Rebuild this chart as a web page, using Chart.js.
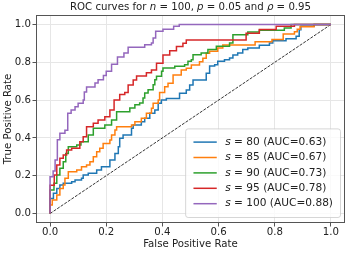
<!DOCTYPE html>
<html>
<head>
<meta charset="utf-8">
<script src="https://cdn.jsdelivr.net/npm/chart.js@4.4.1/dist/chart.umd.min.js"></script>
<style>
  html, body { margin: 0; padding: 0; background: #fff; }
  #wrap { width: 349px; height: 253px; }
</style>
</head>
<body>
<div id="wrap"><canvas id="rocChart"></canvas></div>
<script>
// values
const sValues = [80, 85, 90, 95, 100];
const aucValues = ['0.63', '0.67', '0.73', '0.78', '0.88'];
const colors = ['#1f77b4', '#ff7f0e', '#2ca02c', '#d62728', '#9467bd'];
const tickVals = [0, 0.2, 0.4, 0.6, 0.8, 1.0];

// each point: at fpr x the curve steps up to tpr y
const fpr80 = [0, 0, 0.012, 0.024, 0.035, 0.047, 0.077, 0.089, 0.112, 0.118, 0.136, 0.166, 0.183, 0.213, 0.231, 0.243, 0.248, 0.26, 0.29, 0.296, 0.325, 0.337, 0.355, 0.373, 0.385, 0.396, 0.414, 0.461, 0.485, 0.497, 0.509, 0.556, 0.568, 0.586, 0.597, 0.621, 0.639, 0.651, 0.668, 0.686, 0.704, 0.745, 0.781, 0.793, 0.84, 0.876, 0.887, 0.893, 0.94, 1];
const tpr80 = [0, 0.08, 0.107, 0.133, 0.151, 0.16, 0.168, 0.177, 0.186, 0.204, 0.213, 0.23, 0.248, 0.283, 0.318, 0.353, 0.398, 0.415, 0.451, 0.468, 0.486, 0.504, 0.53, 0.548, 0.583, 0.6, 0.609, 0.636, 0.653, 0.68, 0.706, 0.742, 0.78, 0.787, 0.805, 0.814, 0.823, 0.839, 0.849, 0.867, 0.876, 0.89, 0.902, 0.914, 0.925, 0.937, 0.972, 0.99, 1.0, 1.0];

const fpr85 = [0, 0, 0.008, 0.024, 0.035, 0.047, 0.053, 0.065, 0.095, 0.112, 0.13, 0.142, 0.154, 0.166, 0.177, 0.189, 0.213, 0.219, 0.231, 0.237, 0.29, 0.302, 0.325, 0.343, 0.361, 0.367, 0.385, 0.39, 0.408, 0.42, 0.438, 0.467, 0.485, 0.503, 0.532, 0.544, 0.556, 0.568, 0.597, 0.615, 0.73, 0.79, 0.83, 0.87, 0.88, 0.89, 0.94, 1];
const tpr85 = [0, 0.045, 0.071, 0.098, 0.133, 0.151, 0.186, 0.221, 0.23, 0.248, 0.257, 0.274, 0.3, 0.327, 0.345, 0.371, 0.389, 0.415, 0.442, 0.459, 0.468, 0.486, 0.504, 0.53, 0.557, 0.583, 0.6, 0.64, 0.671, 0.689, 0.733, 0.759, 0.768, 0.786, 0.803, 0.821, 0.848, 0.858, 0.876, 0.892, 0.909, 0.92, 0.95, 0.962, 0.975, 0.988, 1.0, 1.0];

const fpr90 = [0, 0, 0.014, 0.024, 0.035, 0.047, 0.056, 0.065, 0.095, 0.11, 0.136, 0.154, 0.195, 0.219, 0.237, 0.284, 0.302, 0.319, 0.331, 0.337, 0.349, 0.367, 0.373, 0.379, 0.397, 0.402, 0.444, 0.479, 0.491, 0.503, 0.509, 0.538, 0.562, 0.592, 0.639, 0.651, 0.704, 0.745, 0.834, 0.858, 1];
const tpr90 = [0, 0.124, 0.16, 0.204, 0.239, 0.274, 0.318, 0.353, 0.362, 0.38, 0.415, 0.451, 0.468, 0.495, 0.539, 0.558, 0.576, 0.585, 0.611, 0.638, 0.655, 0.681, 0.708, 0.726, 0.752, 0.77, 0.779, 0.787, 0.805, 0.814, 0.84, 0.849, 0.867, 0.885, 0.902, 0.945, 0.96, 0.97, 0.981, 1.0, 1.0];

const fpr95 = [0, 0, 0.015, 0.024, 0.035, 0.047, 0.059, 0.077, 0.106, 0.118, 0.13, 0.154, 0.171, 0.195, 0.213, 0.228, 0.248, 0.266, 0.278, 0.296, 0.308, 0.343, 0.361, 0.379, 0.402, 0.426, 0.45, 0.473, 0.485, 0.698, 0.745, 0.805, 0.87, 1];
const tpr95 = [0, 0.15, 0.204, 0.257, 0.292, 0.31, 0.336, 0.345, 0.38, 0.406, 0.459, 0.477, 0.495, 0.512, 0.548, 0.6, 0.629, 0.64, 0.68, 0.706, 0.728, 0.745, 0.759, 0.795, 0.839, 0.861, 0.883, 0.9, 0.918, 0.953, 0.973, 0.99, 1.0, 1.0];

const fpr100 = [0, 0, 0.011, 0.018, 0.026, 0.035, 0.053, 0.063, 0.075, 0.089, 0.1, 0.118, 0.122, 0.13, 0.16, 0.171, 0.19, 0.2, 0.219, 0.24, 0.263, 0.278, 0.337, 0.361, 0.367, 0.376, 0.402, 0.44, 0.46, 1];
const tpr100 = [0, 0.195, 0.225, 0.283, 0.39, 0.425, 0.44, 0.53, 0.548, 0.565, 0.583, 0.6, 0.643, 0.669, 0.69, 0.708, 0.73, 0.752, 0.79, 0.828, 0.849, 0.879, 0.893, 0.902, 0.929, 0.964, 0.975, 0.99, 1.0, 1.0];

const fprAll = [fpr80, fpr85, fpr90, fpr95, fpr100];
const tprAll = [tpr80, tpr85, tpr90, tpr95, tpr100];

const titleParts = [
  ['ROC curves for ', false], ['n', true], [' = 100, ', false], ['p', true],
  [' = 0.05 and ', false], ['ρ', true], [' = 0.95', false]
];

const FONT = '"DejaVu Sans", sans-serif';
Chart.defaults.font.family = FONT;
Chart.defaults.font.size = 10.2;
Chart.defaults.color = '#222';

const canvas = document.querySelector('#rocChart').getContext('2d');

const pts = (xs, ys) => xs.map((x, i) => ({ x: x, y: ys[i] }));

const datasets = sValues.map((s, i) => ({
  label: 's = ' + s + ' (AUC=' + aucValues[i] + ')',
  data: pts(fprAll[i], tprAll[i]),
  borderColor: colors[i],
  backgroundColor: colors[i],
  borderWidth: 1.5,
  stepped: true,
  showLine: true,
  pointRadius: 0,
  order: sValues.length - 1 - i,
}));

datasets.push({
  label: 'chance',
  data: [{ x: 0, y: 0 }, { x: 1, y: 1 }],
  borderColor: '#000',
  borderWidth: 0.8,
  borderDash: [3, 1.3],
  showLine: true,
  pointRadius: 0,
  order: 10,
});

// title with italic symbols, drawn like mathtext
const mathTitle = {
  id: 'mathTitle',
  afterDraw(chart) {
    const { ctx, chartArea: a } = chart;
    ctx.save();
    ctx.fillStyle = '#222';
    ctx.textBaseline = 'middle';
    const fontOf = it => (it ? 'italic ' : '') + '10.2px ' + FONT;
    let total = 0;
    titleParts.forEach(p => { ctx.font = fontOf(p[1]); total += ctx.measureText(p[0]).width; });
    let x = (a.left + a.right) / 2 - total / 2;
    titleParts.forEach(p => {
      ctx.font = fontOf(p[1]);
      ctx.fillText(p[0], x, 7.5);
      x += ctx.measureText(p[0]).width;
    });
    ctx.restore();
  },
};

// frame + legend in the lower right corner of the plot
const frameLegend = {
  id: 'frameLegend',
  afterDatasetsDraw(chart) {
    const { ctx, chartArea: a } = chart;
    ctx.save();
    ctx.strokeStyle = '#555';
    ctx.lineWidth = 1;
    ctx.strokeRect(a.left + 0.5, a.top + 0.5, a.right - a.left - 1, a.bottom - a.top - 1);

    const rowH = 15.4;
    const lf = '10.6px ' + FONT;
    const parts = sValues.map((s, i) => ' = ' + s + ' (AUC=' + aucValues[i] + ')');
    ctx.font = 'italic ' + lf;
    const sW = ctx.measureText('s').width;
    ctx.font = lf;
    const maxW = Math.max(...parts.map(p => ctx.measureText(p).width)) + sW;
    const right = a.right - 5;
    const bottom = a.bottom - 6;
    const w = 40 + maxW + 7;
    const h = 27 + rowH * (sValues.length - 1);
    const left = right - w;
    const top = bottom - h;

    ctx.beginPath();
    ctx.roundRect(left + 0.5, top + 0.5, w, h, 2.5);
    ctx.fillStyle = 'rgba(255,255,255,0.8)';
    ctx.fill();
    ctx.strokeStyle = 'rgba(204,204,204,0.8)';
    ctx.lineWidth = 1;
    ctx.stroke();

    ctx.textBaseline = 'middle';
    sValues.forEach((s, i) => {
      const y = top + 13.7 + i * rowH;
      ctx.strokeStyle = colors[i];
      ctx.lineWidth = 1.5;
      ctx.beginPath();
      ctx.moveTo(left + 8.3, y);
      ctx.lineTo(left + 31.6, y);
      ctx.stroke();
      ctx.fillStyle = '#222';
      ctx.font = 'italic ' + lf;
      ctx.fillText('s', left + 40, y);
      ctx.font = lf;
      ctx.fillText(parts[i], left + 40 + sW, y);
    });
    ctx.restore();
  },
};

const setTicks = scale => { scale.ticks = tickVals.map(v => ({ value: v })); };

new Chart(canvas, {
  type: 'scatter',
  data: { datasets: datasets },
  options: {
    responsive: true,
    maintainAspectRatio: false,
    animation: false,
    layout: { padding: { top: 15, right: 4, left: 0, bottom: 0 } },
    plugins: {
      legend: { display: false },
      tooltip: { enabled: false },
    },
    scales: {
      x: {
        type: 'linear',
        min: -0.05,
        max: 1.05,
        afterBuildTicks: setTicks,
        afterFit: scale => { scale.height = 30; },
        border: { display: false },
        grid: { color: '#e6e6e6', tickColor: '#555', tickLength: 3.5 },
        ticks: { padding: 0, maxRotation: 0, callback: v => v.toFixed(1) },
        title: { display: true, text: 'False Positive Rate', padding: { top: 0, bottom: 2.7 } },
      },
      y: {
        type: 'linear',
        min: -0.05,
        max: 1.05,
        afterBuildTicks: setTicks,
        afterFit: scale => { scale.width = 36; },
        border: { display: false },
        grid: { color: '#e6e6e6', tickColor: '#555', tickLength: 3.5 },
        ticks: { padding: 1.5, callback: v => v.toFixed(1) },
        title: { display: true, text: 'True Positive Rate', padding: { top: 2, bottom: 0 } },
      },
    },
  },
  plugins: [mathTitle, frameLegend],
});
</script>
</body>
</html>
